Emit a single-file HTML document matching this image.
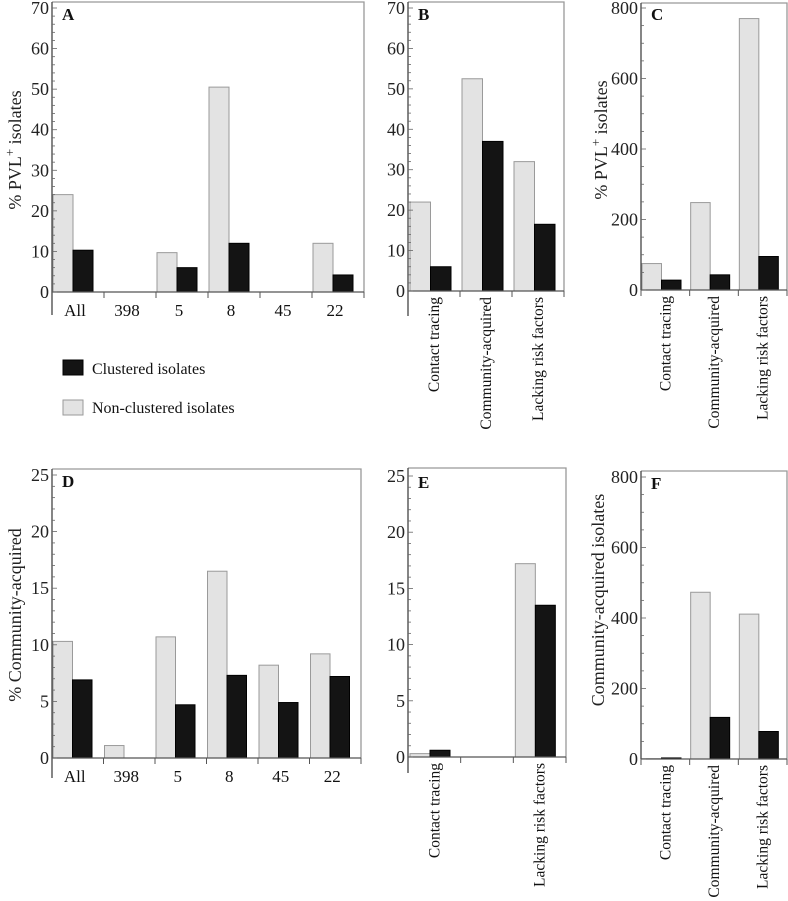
<!DOCTYPE html>
<html><head><meta charset="utf-8">
<style>
html,body{margin:0;padding:0;background:#fff;}
svg{display:block;}
svg text{font-family:"Liberation Serif","Times New Roman",serif;}
</style></head>
<body>
<svg id="chart" width="788" height="901" viewBox="0 0 788 901" xmlns="http://www.w3.org/2000/svg"></svg>
<script>
// Panel A
const catsA = ["All","398","5","8","45","22"];
const nonClusteredA = [24, 0, 9.7, 50.5, 0, 12];
const clusteredA = [10.3, 0, 6, 12, 0, 4.2];
const ticksA = [0,10,20,30,40,50,60,70];
// Panel B
const catsB = ["Contact tracing","Community-acquired","Lacking risk factors"];
const nonClusteredB = [22, 52.5, 32];
const clusteredB = [6, 37, 16.5];
const ticksB = [0,10,20,30,40,50,60,70];
// Panel C
const catsC = ["Contact tracing","Community-acquired","Lacking risk factors"];
const nonClusteredC = [75, 248, 770];
const clusteredC = [28, 43, 95];
const ticksC = [0,200,400,600,800];
// Panel D
const catsD = ["All","398","5","8","45","22"];
const nonClusteredD = [10.3, 1.1, 10.7, 16.5, 8.2, 9.2];
const clusteredD = [6.9, 0, 4.7, 7.3, 4.9, 7.2];
const ticksD = [0,5,10,15,20,25];
// Panel E
const catsE = ["Contact tracing","","Lacking risk factors"];
const nonClusteredE = [0.3, 0, 17.2];
const clusteredE = [0.6, 0, 13.5];
const ticksE = [0,5,10,15,20,25];
// Panel F
const catsF = ["Contact tracing","Community-acquired","Lacking risk factors"];
const nonClusteredF = [1, 473, 411];
const clusteredF = [3, 118, 78];
const ticksF = [0,200,400,600,800];

const svg = document.getElementById('chart');
const NS = "http://www.w3.org/2000/svg";
const FONT = '"Liberation Serif", serif';
function el(tag, attrs, parent){
  const e = document.createElementNS(NS, tag);
  for (const k in attrs) e.setAttribute(k, attrs[k]);
  if (tag === 'text') e.setAttribute('font-family', FONT);
  (parent||svg).appendChild(e);
  return e;
}

function panel(o){
  const g = el('g', {});
  
  
  const ymax = o.ticks[o.ticks.length-1];
  const y = v => o.y0 - (v/ymax)*(o.y0 - o.yTop);
  const fr = el('path', {d:`M${o.x0},${o.frameTop} H${o.x1} V${o.y0}`, fill:'none', stroke:'#999', 'stroke-width':1.3}, g);
  
  
  const n = o.cats.length;
  const gw = (o.x1 - o.x0)/n;
  for (let i=0;i<n;i++){
    const gs = o.x0 + i*gw;
    const bx = gs + o.off;
    if (o.light[i] > 0){
      const r = el('rect', {x:bx, y:y(o.light[i]), width:o.bw, height:o.y0 - y(o.light[i]), fill:'#e3e3e3', stroke:'#9a9a9a', 'stroke-width':1}, g);
      
      
    }
    if (o.dark[i] > 0){
      const r = el('rect', {x:bx+o.bw, y:y(o.dark[i]), width:o.bw, height:o.y0 - y(o.dark[i]), fill:'#141414', stroke:'#000', 'stroke-width':1}, g);
      
      
    }
    el('line', {x1:gs, x2:gs, y1:o.y0, y2:o.y0+6, stroke:'#555', 'stroke-width':1}, g);
    const cx = gs + gw/2;
    if (o.cats[i]){
      let t;
      if (o.rot){
        t = el('text', {x:0, y:0, 'font-size':15.5, 'text-anchor':'end', fill:'#111', transform:`translate(${cx+5},${o.y0+6}) rotate(-90)`}, g);
      } else {
        t = el('text', {x:cx-3, y:o.y0+24, 'font-size':17, 'text-anchor':'middle', fill:'#111'}, g);
      }
      t.textContent = o.cats[i];
      
      
    }
  }
  el('line', {x1:o.x1, x2:o.x1, y1:o.y0, y2:o.y0+6, stroke:'#555', 'stroke-width':1}, g);
  const xa = el('line', {x1:o.x0, x2:o.x1, y1:o.y0, y2:o.y0, stroke:'#555', 'stroke-width':1.3}, g);
  
  
  const ya = el('line', {x1:o.x0, x2:o.x0, y1:o.frameTop, y2:o.y0 + o.ext, stroke:'#444', 'stroke-width':1.3}, g);
  
  
  const step = o.ticks[1]-o.ticks[0];
  const minor = step/o.minorN;
  for (let v=0; v<=ymax+1e-9; v+=minor){
    const isMajor = Math.abs(v/step - Math.round(v/step)) < 1e-6;
    el('line', {x1:o.x0, x2:o.x0 + (isMajor?5:3), y1:y(v), y2:y(v), stroke:'#666', 'stroke-width':0.8}, g);
  }
  o.ticks.forEach(v=>{
    const t = el('text', {x:o.x0-3, y:y(v)+6, 'font-size':18, 'text-anchor':'end', fill:'#222'}, g);
    t.textContent = v;
    
    
  });
  const pl = el('text', {x:o.x0+10, y:o.yTop+12, 'font-size':17, 'font-weight':'bold', fill:'#111'}, g);
  pl.textContent = o.id;
  
  
  if (o.ylab){
    const t = el('text', {x:0, y:0, 'font-size':18, 'text-anchor':'middle', fill:'#222', transform:`translate(${o.ylabX},${o.ylabY}) rotate(-90)`}, g);
    
    
    if (o.sup){
      const a = document.createElementNS(NS,'tspan'); a.textContent = '% PVL'; t.appendChild(a);
      const b = document.createElementNS(NS,'tspan'); b.textContent = '+'; b.setAttribute('dy','-7'); b.setAttribute('font-size','13'); t.appendChild(b);
      const c = document.createElementNS(NS,'tspan'); c.textContent = ' isolates'; c.setAttribute('dy','7'); t.appendChild(c);
    } else t.textContent = o.ylab;
  }
}

panel({id:'A', cats:catsA, light:nonClusteredA, dark:clusteredA, ticks:ticksA, x0:52, x1:364, y0:292, yTop:8, frameTop:2, off:1, bw:20, minorN:5, ext:23, rot:false, ylab:'x', sup:true, ylabX:21, ylabY:150});
panel({id:'B', cats:catsB, light:nonClusteredB, dark:clusteredB, ticks:ticksB, x0:408, x1:564, y0:291, yTop:8, frameTop:2, off:2, bw:20.5, minorN:5, ext:25, rot:true});
panel({id:'C', cats:catsC, light:nonClusteredC, dark:clusteredC, ticks:ticksC, x0:641, x1:787, y0:290, yTop:8, frameTop:3, off:1, bw:19.5, minorN:4, ext:0, rot:true, ylab:'x', sup:true, ylabX:607, ylabY:140});
panel({id:'D', cats:catsD, light:nonClusteredD, dark:clusteredD, ticks:ticksD, x0:52, x1:361, y0:758, yTop:475, frameTop:469, off:1, bw:19.5, minorN:5, ext:20, rot:false, ylab:'% Community-acquired', ylabX:21, ylabY:615});
panel({id:'E', cats:catsE, light:nonClusteredE, dark:clusteredE, ticks:ticksE, x0:408, x1:566, y0:757, yTop:476, frameTop:468, off:2, bw:20, minorN:5, ext:16, rot:true});
panel({id:'F', cats:catsF, light:nonClusteredF, dark:clusteredF, ticks:ticksF, x0:641, x1:787, y0:759, yTop:477, frameTop:471, off:1, bw:19.5, minorN:4, ext:0, rot:true, ylab:'Community-acquired isolates', ylabX:604, ylabY:600});

const lg = el('g', {});


const s1 = el('rect', {x:63, y:360, width:20, height:15, fill:'#141414', stroke:'#000'}, lg);


const t1 = el('text', {x:92, y:374, 'font-size':16, fill:'#111'}, lg);
t1.textContent = 'Clustered isolates';


const s2 = el('rect', {x:63, y:400, width:20, height:15, fill:'#e3e3e3', stroke:'#9a9a9a'}, lg);


const t2 = el('text', {x:92, y:413, 'font-size':16, fill:'#111'}, lg);
t2.textContent = 'Non-clustered isolates';


</script>
</body></html>
